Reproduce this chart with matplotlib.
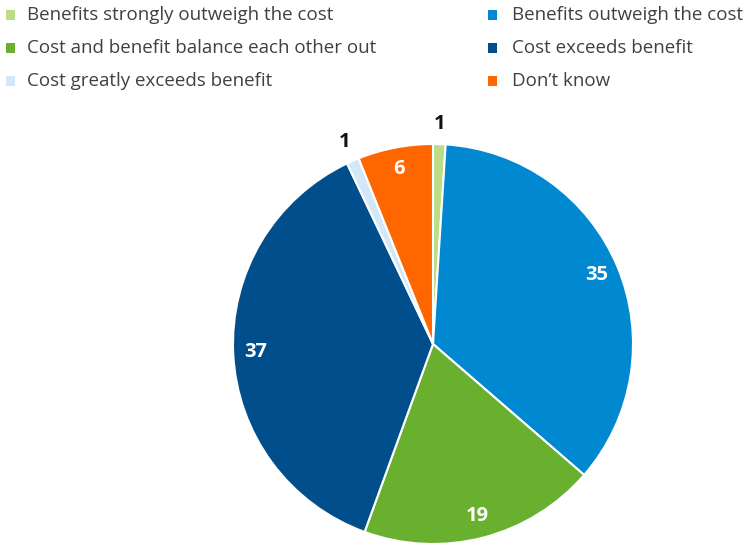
import numpy as np
import matplotlib
matplotlib.use("Agg")
import matplotlib.pyplot as plt
from matplotlib.patches import Rectangle

categories = [
    "Benefits strongly outweigh the cost",
    "Benefits outweigh the cost",
    "Cost and benefit balance each other out",
    "Cost exceeds benefit",
    "Cost greatly exceeds benefit",
    "Don\u2019t know",
]
values = [1, 35, 19, 37, 1, 6]
colors = ["#bcdc85", "#0088d1", "#6ab02f", "#004f8c", "#d3e7f8", "#ff6600"]
label_colors = ["#111111", "white", "white", "white", "#111111", "white"]

plt.rcParams["font.family"] = ["Open Sans", "DejaVu Sans"]

W, H = 747, 544
fig = plt.figure(figsize=(W / 100, H / 100), dpi=100)
fig.patch.set_facecolor("white")

# pie axes: center (433, 344) px, radius 200 px
cx, cy, r = 433, 344, 200
ax = fig.add_axes([(cx - r) / W, (H - cy - r) / H, 2 * r / W, 2 * r / H])
wedges, _ = ax.pie(values, colors=colors, startangle=90, counterclock=False,
                   radius=1.0, wedgeprops=dict(edgecolor="white", linewidth=1.5))
ax.set_xlim(-1, 1)
ax.set_ylim(-1, 1)
ax.set_aspect("equal")
ax.axis("off")

for w, v, lc in zip(wedges, values, label_colors):
    mid = np.deg2rad((w.theta1 + w.theta2) / 2)
    dist = 0.89 if v > 3 else 1.1
    ax.text(dist * np.cos(mid), dist * np.sin(mid), str(v), ha="center", va="center",
            fontsize=14.5, fontweight="bold", color=lc, clip_on=False)

# legend, two columns
col_marker_x = [10, 492]
col_text_x = [27, 512]
row_y = [15, 48, 81]
for i, (name, c) in enumerate(zip(categories, colors)):
    col, row = i % 2, i // 2
    mx, my = col_marker_x[col], row_y[row]
    fig.patches.append(Rectangle(((mx - 4.5) / W, (H - my - 4.5) / H), 9 / W, 9 / H,
                                 transform=fig.transFigure, facecolor=c, edgecolor="none"))
    fig.text(col_text_x[col] / W, (H - my) / H, name, ha="left", va="center",
             fontsize=13.5, color="#404040")

fig.savefig("out.png", dpi=100)
